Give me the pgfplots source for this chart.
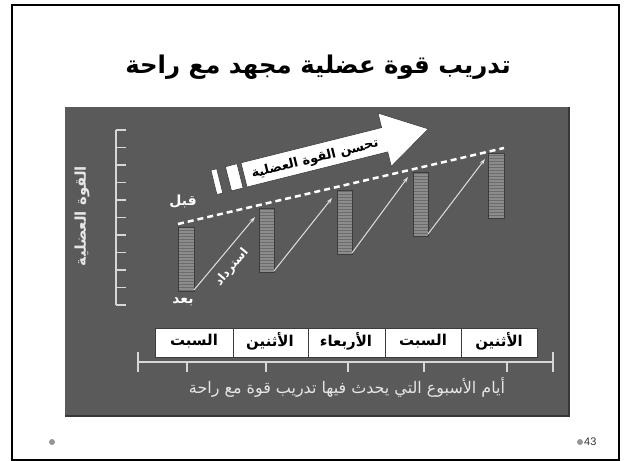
\documentclass[border=0pt]{standalone}
\usepackage{pgfplots}
\pgfplotsset{compat=1.18}
\usepackage{fontspec}
\setmainfont{Liberation Sans}
\newfontfamily\arabicfont[Script=Arabic]{DejaVu Sans}
\TeXXeTstate=1
\usetikzlibrary{patterns,arrows.meta}
\definecolor{panel}{RGB}{90,90,90}
\definecolor{paneledge}{RGB}{55,55,55}
\definecolor{barfill}{RGB}{140,140,140}
\definecolor{barline}{RGB}{108,108,108}
\definecolor{bardark}{RGB}{60,60,60}
\definecolor{rule}{RGB}{215,215,215}
\definecolor{lighttext}{RGB}{230,230,230}
\definecolor{dotgray}{RGB}{150,150,150}
\newcommand{\AR}[1]{\beginR #1\endR}
\begin{document}
\begin{tikzpicture}
\begin{axis}[scale only axis, width=624bp, height=461bp,
  xmin=0, xmax=624, ymin=0, ymax=461, y dir=reverse,
  hide axis, clip=false]
% slide background and frame
\fill[white] (axis cs:0,0) rectangle (axis cs:624,461);
\draw[black, line width=2bp] (axis cs:12,5) rectangle (axis cs:619,460);
% title
\node[font=\arabicfont\bfseries\fontsize{24.5}{28}\selectfont] at (axis cs:318,67) {\AR{تدريب قوة عضلية مجهد مع راحة}};
% grey panel
\fill[panel] (axis cs:65,107) rectangle (axis cs:569,416);
\draw[paneledge, line width=1.2bp] (axis cs:65,416) -- (axis cs:569,416) -- (axis cs:569,107);
% y ruler
\addplot[rule, line width=2bp] coordinates {(116,130) (116,305)};
\foreach \yy in {130,147.5,165,182.5,200,217.5,235,252.5,270,287.5,305}{
  \edef\tmp{\noexpand\addplot[rule, line width=1.6bp] coordinates {(116,\yy) (126,\yy)};}\tmp
}
\node[rotate=90, text=lighttext, font=\arabicfont\bfseries\fontsize{15}{17}\selectfont] at (axis cs:82,216) {\AR{القوة العضلية}};
% x axis
\addplot[rule, line width=2bp] coordinates {(138,362) (553,362)};
\addplot[rule, line width=1.6bp] coordinates {(138,352) (138,372)};
\addplot[rule, line width=1.6bp] coordinates {(553,352) (553,372)};
\foreach \xx in {187,266,348,424,507}{
  \edef\tmp{\noexpand\addplot[rule, line width=1.6bp] coordinates {(\xx,362) (\xx,372)};}\tmp
}
\node[text=lighttext, font=\arabicfont\fontsize{16}{18}\selectfont] at (axis cs:347,387) {\AR{أيام الأسبوع التي يحدث فيها تدريب قوة مع راحة}};
% day cells
\foreach \a/\b in {155/233,233/308,308/385,385/461,461/537}{
  \edef\tmp{\noexpand\addplot[fill=white, draw=bardark, line width=1bp] coordinates {(\a,328) (\b,328) (\b,357) (\a,357)} -- cycle;}\tmp
}
\node[font=\arabicfont\bfseries\fontsize{15}{17}\selectfont] at (axis cs:194,341) {\AR{السبت}};
\node[font=\arabicfont\bfseries\fontsize{15}{17}\selectfont] at (axis cs:270,341) {\AR{الأثنين}};
\node[font=\arabicfont\bfseries\fontsize{15}{17}\selectfont] at (axis cs:346,341) {\AR{الأربعاء}};
\node[font=\arabicfont\bfseries\fontsize{15}{17}\selectfont] at (axis cs:423,341) {\AR{السبت}};
\node[font=\arabicfont\bfseries\fontsize{15}{17}\selectfont] at (axis cs:499,341) {\AR{الأثنين}};
% strength bars (after = bottom, before = top)
\addplot[draw=bardark, fill=barfill, line width=1bp, postaction={pattern=horizontal lines, pattern color=barline}] coordinates {(178,227) (194,227) (194,291) (178,291)} -- cycle;
\addplot[draw=bardark, fill=barfill, line width=1bp, postaction={pattern=horizontal lines, pattern color=barline}] coordinates {(259,208) (274,208) (274,272) (259,272)} -- cycle;
\addplot[draw=bardark, fill=barfill, line width=1bp, postaction={pattern=horizontal lines, pattern color=barline}] coordinates {(337,190) (352,190) (352,254) (337,254)} -- cycle;
\addplot[draw=bardark, fill=barfill, line width=1bp, postaction={pattern=horizontal lines, pattern color=barline}] coordinates {(413,172) (428,172) (428,236) (413,236)} -- cycle;
\addplot[draw=bardark, fill=barfill, line width=1bp, postaction={pattern=horizontal lines, pattern color=barline}] coordinates {(488,153) (504,153) (504,218) (488,218)} -- cycle;
% dashed trend
\addplot[white, line width=2.5bp, dash pattern=on 6bp off 4bp] coordinates {(178,224) (504,148)};
% recovery arrows
\addplot[white!88!black, line width=1bp, -{Stealth[length=6bp,width=4bp]}] coordinates {(194,290) (255,217)};
\addplot[white!88!black, line width=1bp, -{Stealth[length=6bp,width=4bp]}] coordinates {(274,271) (332,198)};
\addplot[white!88!black, line width=1bp, -{Stealth[length=6bp,width=4bp]}] coordinates {(352,253) (408,177)};
\addplot[white!88!black, line width=1bp, -{Stealth[length=6bp,width=4bp]}] coordinates {(428,234) (485,159)};
\node[rotate=50, text=white, font=\arabicfont\bfseries\fontsize{12}{14}\selectfont] at (axis cs:232,267) {\AR{استرداد}};
\node[text=white, font=\arabicfont\bfseries\fontsize{14}{16}\selectfont] at (axis cs:183,201) {\AR{قبل}};
\node[text=white, font=\arabicfont\bfseries\fontsize{14}{16}\selectfont] at (axis cs:183,302) {\AR{بعد}};
% big arrow
\fill[white, draw=bardark, line width=0.6bp] (axis cs:247,187) -- (axis cs:387.7,151.9) -- (axis cs:391.3,166.4) -- (axis cs:428.3,128.9) -- (axis cs:378,113.1) -- (axis cs:381.6,127.6) -- (axis cs:241,162.8) -- cycle;
\fill[white, draw=bardark, line width=0.6bp] (axis cs:231.5,190.9) -- (axis cs:243.1,188) -- (axis cs:237,163.7) -- (axis cs:225.4,166.7) -- cycle;
\fill[white, draw=bardark, line width=0.6bp] (axis cs:216.9,194.5) -- (axis cs:222.8,193.1) -- (axis cs:216.7,168.8) -- (axis cs:210.9,170.2) -- cycle;
\node[rotate=14, font=\arabicfont\bfseries\fontsize{13}{15}\selectfont] at (axis cs:315,159) {\AR{تحسن القوة العضلية}};
% footer
\fill[dotgray] (axis cs:52,442) circle[radius=3bp];
\fill[dotgray] (axis cs:580,442) circle[radius=3bp];
\node[anchor=west, inner sep=0pt, text=black!80, font=\fontsize{11}{12}\selectfont] at (axis cs:584,442) {43};
\end{axis}
\end{tikzpicture}
\end{document}
